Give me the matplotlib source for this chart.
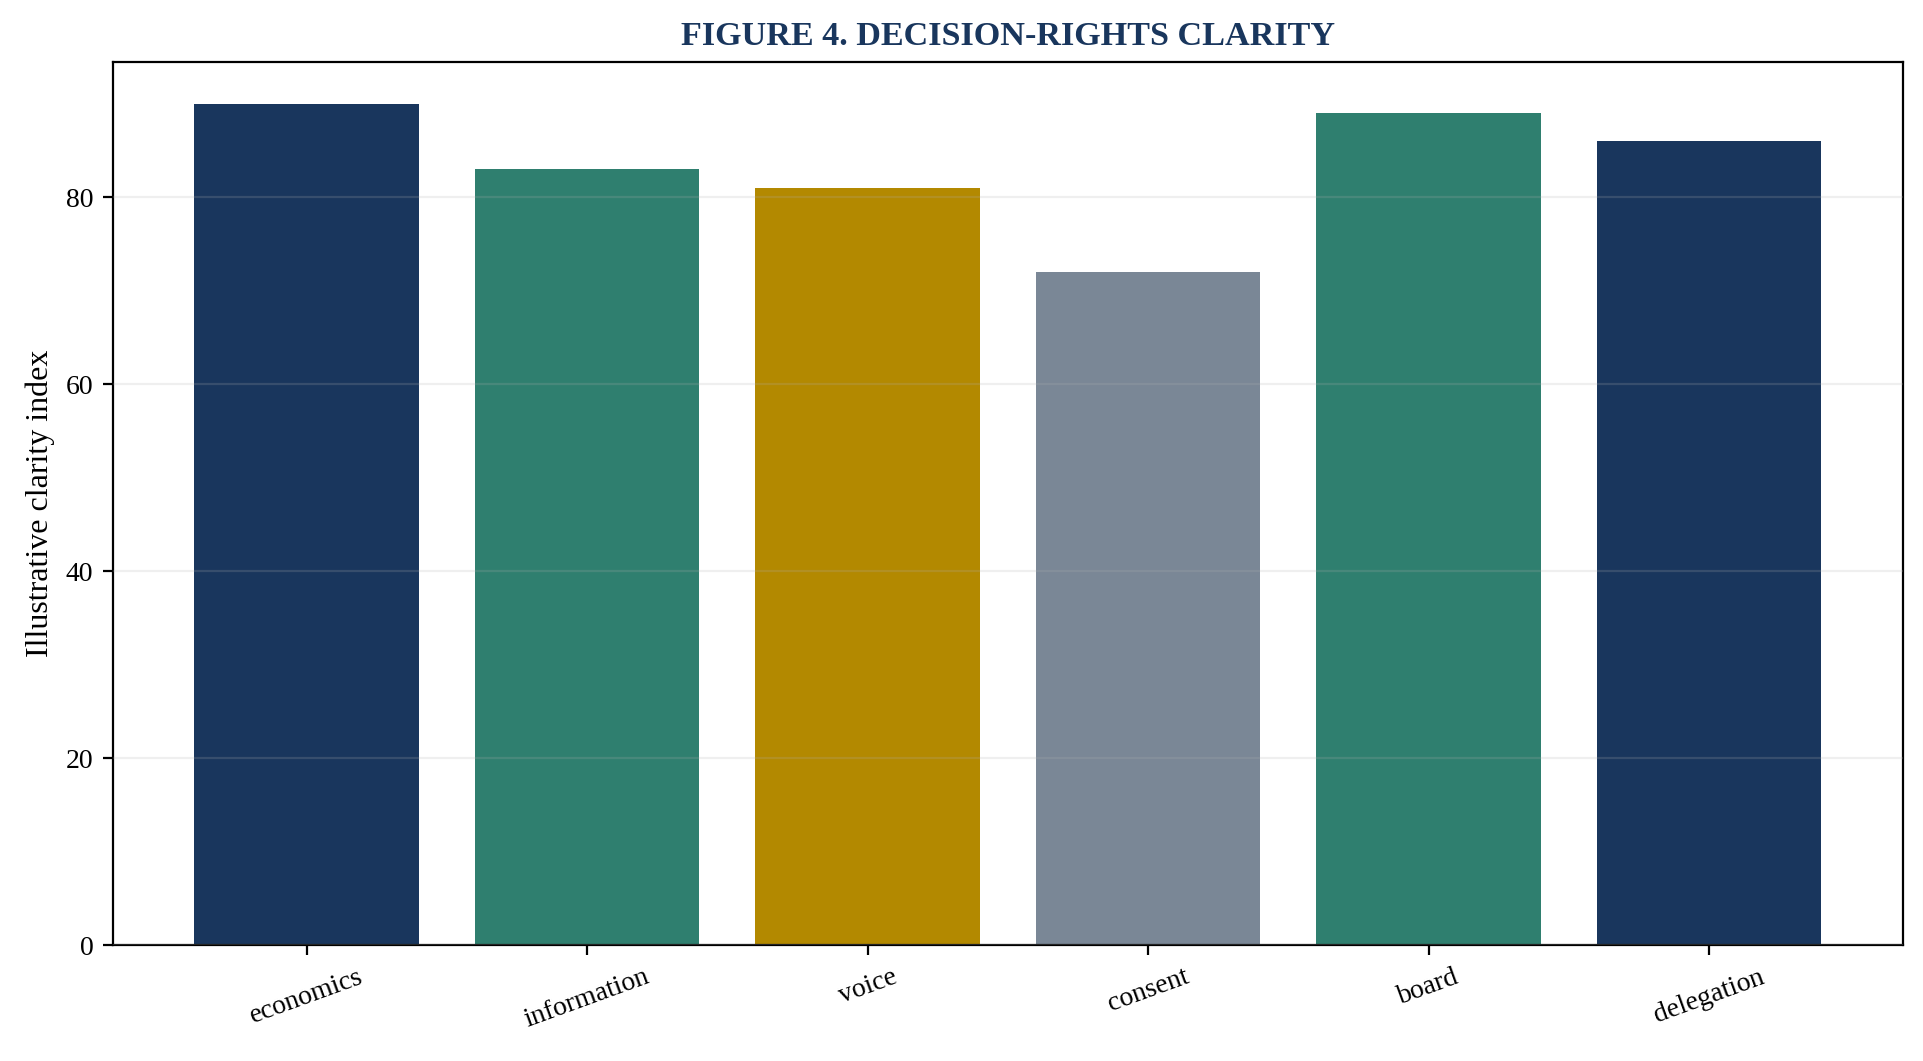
import matplotlib
matplotlib.use("Agg")
import matplotlib.pyplot as plt

categories = ["economics", "information", "voice", "consent", "board", "delegation"]
values = [90, 83, 81, 72, 89, 86]
colors = ["#19365d", "#2f7f6f", "#b38900", "#7a8796", "#2f7f6f", "#19365d"]

plt.rcParams["font.family"] = ["Liberation Serif", "DejaVu Serif"]

fig = plt.figure(figsize=(9.62, 5.305), dpi=200)
ax = fig.add_axes([0.0587, 0.1093, 0.989 - 0.0587, 0.9416 - 0.1093])

x = list(range(len(categories)))
ax.bar(x, values, color=colors, width=0.8)
ax.set_xticks(x)
ax.set_xticklabels(categories, rotation=20, ha="center", fontsize=10)
ax.tick_params(axis="y", labelsize=10)
ax.set_ylabel("Illustrative clarity index", fontsize=11.5)
ax.set_title("FIGURE 4. DECISION-RIGHTS CLARITY", fontsize=12.3, fontweight="bold",
             color="#19365d")
ax.yaxis.grid(True, color="#b0b0b0", alpha=0.2, linewidth=0.8)
ax.set_axisbelow(False)

fig.savefig("out.png", dpi=200)
